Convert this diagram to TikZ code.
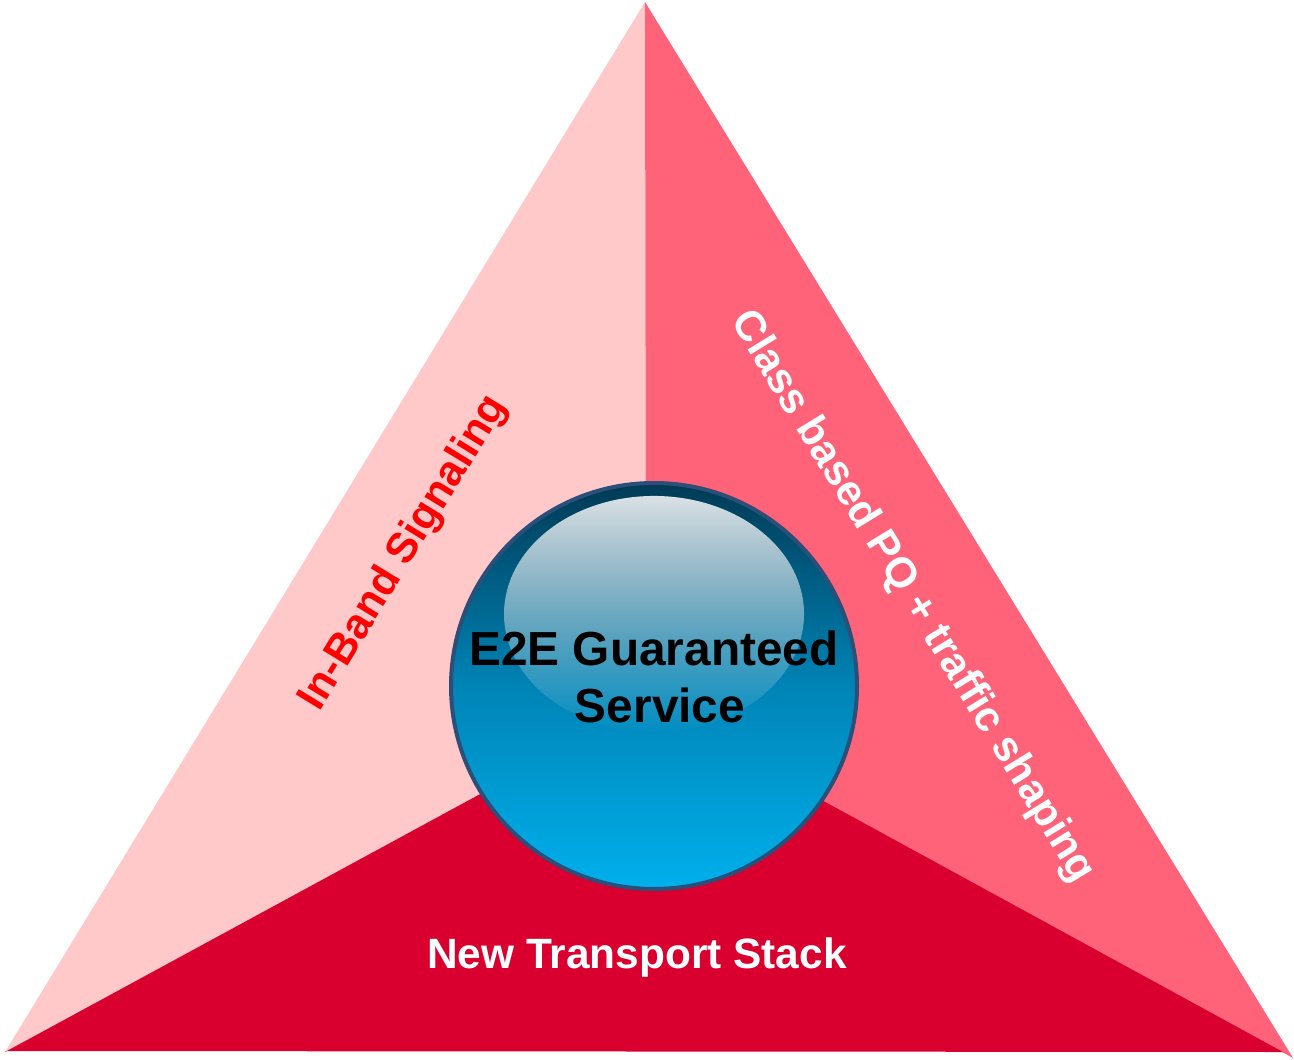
\documentclass[tikz,border=0pt]{standalone}
\usepackage{fontspec}
\setmainfont{Liberation Sans}
\usetikzlibrary{fadings}
\definecolor{leftpink}{HTML}{FFC9C9}
\definecolor{rightpink}{HTML}{FF6379}
\definecolor{bottomred}{HTML}{D9002F}
\definecolor{ringblue}{HTML}{2B4F78}
\definecolor{balltop}{HTML}{003A55}
\definecolor{ballmid}{HTML}{0084B6}
\definecolor{ballbot}{HTML}{00B0EC}
\tikzfading[name=hlfade, top color=transparent!15, bottom color=transparent!100]
\tikzset{
  sidelabel/.style={font=\fontsize{21.2}{25}\selectfont\bfseries, inner sep=0pt},
  balllabel/.style={font=\fontsize{23.9}{28}\selectfont\bfseries, inner sep=0pt, text=black},
}
\begin{document}
\begin{tikzpicture}[x=0.5pt,y=-0.5pt]
\useasboundingbox (0,0) rectangle (1294,1059);
\coordinate (A) at (645,2);
\coordinate (B) at (5,1052);
\coordinate (C) at (1293,1058);
\coordinate (Cr) at (1283,1052);
\coordinate (G) at (646,704);
% regions
\fill[leftpink] (A) -- (B) -- (G) -- cycle;
\fill[rightpink] (A) -- (G) -- (C) -- cycle;
\fill[bottomred] (B) -- (G) -- (Cr) -- (6,1051) -- cycle;
% ball
\coordinate (O) at (654,686);
\shade[top color=balltop, bottom color=ballbot, middle color=ballmid] (O) circle (203);
\fill[white, path fading=hlfade] (654,614) ellipse (150 and 118);
\draw[ringblue, line width=2pt] (O) circle (203);
\node[balllabel, anchor=base] (t1) at (654,665) {E2E Guaranteed};
\node[balllabel, anchor=base] (t2) at (660,722) {Service};
% side labels
\node[sidelabel, text=red, rotate=58.5] (inband) at (404,553) {In-Band Signaling};
\node[sidelabel, text=white, rotate=-58.5] (cls) at (912,597) {Class based PQ + traffic shaping};
\node[sidelabel, text=white, anchor=base] (nts) at (637,968) {New Transport Stack};
\end{tikzpicture}
\end{document}
